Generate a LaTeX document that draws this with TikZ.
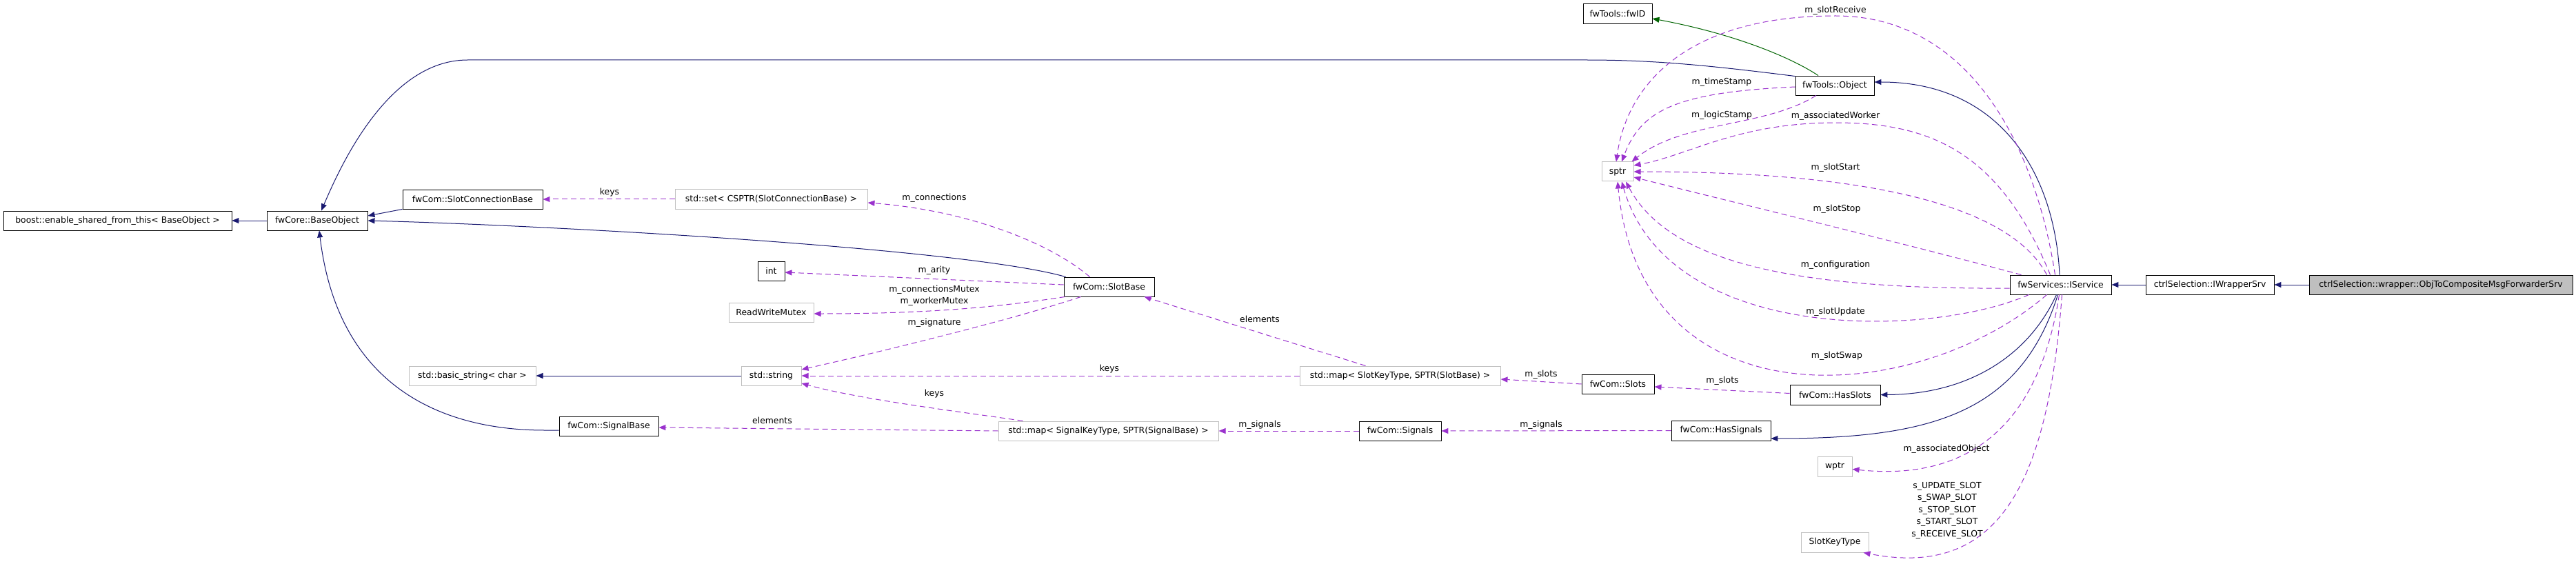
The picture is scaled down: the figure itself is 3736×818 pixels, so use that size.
\documentclass[tikz,border=0pt]{standalone}
\usepackage{fontspec}
\setmainfont{DejaVu Sans}
\usetikzlibrary{arrows.meta}
\definecolor{navy}{HTML}{191970}
\definecolor{dgreen}{HTML}{006400}
\definecolor{orchid}{HTML}{9A32CD}
\definecolor{lgray}{HTML}{BFBFBF}
\tikzset{
  cls/.style={draw=black, line width=0.9pt, fill=white, inner sep=0pt, minimum height=28pt, font=\fontsize{12.4}{17.5}\selectfont},
  ext/.style={cls, draw=lgray, line width=1pt},
  cur/.style={cls, fill=lgray},
  inh/.style={draw=navy, line width=1pt, -{Triangle[length=10pt,width=8pt]}},
  grn/.style={draw=dgreen, line width=1pt, -{Triangle[length=10pt,width=8pt]}},
  use/.style={draw=orchid, line width=1pt, dash pattern=on 8pt off 5pt, -{Triangle[length=10pt,width=8pt]}},
  lbl/.style={inner sep=0pt, align=center, font=\fontsize{12.4}{17.5}\selectfont}
}
\begin{document}
\begin{tikzpicture}[x=1pt,y=-1pt]
\useasboundingbox (0,0) rectangle (3736,818);
% nodes
\node[cls, minimum width=331pt] (boost) at (170.5,320) {boost::enable\_shared\_from\_this< BaseObject >};
\node[cls, minimum width=146pt] (base) at (460,320) {fwCore::BaseObject};
\node[cls, minimum width=203pt] (scb) at (685.5,289) {fwCom::SlotConnectionBase};
\node[ext, minimum width=184pt] (bstr) at (685,545) {std::basic\_string< char >};
\node[cls, minimum width=144pt] (sigbase) at (883,618) {fwCom::SignalBase};
\node[ext, minimum width=279pt] (set) at (1118.5,289) {std::set< CSPTR(SlotConnectionBase) >};
\node[cls, minimum width=39pt] (int) at (1118.5,393) {int};
\node[ext, minimum width=123pt] (rwm) at (1118.5,453) {ReadWriteMutex};
\node[ext, minimum width=87pt] (str) at (1118.5,545) {std::string};
\node[ext, minimum width=319pt] (mapsig) at (1607.5,625) {std::map< SignalKeyType, SPTR(SignalBase) >};
\node[cls, minimum width=131pt] (slotbase) at (1608.5,416) {fwCom::SlotBase};
\node[ext, minimum width=291pt] (mapslot) at (2030.5,545) {std::map< SlotKeyType, SPTR(SlotBase) >};
\node[cls, minimum width=119pt] (signals) at (2030.5,625) {fwCom::Signals};
\node[cls, minimum width=105pt] (slots) at (2346.5,557) {fwCom::Slots};
\node[ext, minimum width=46pt] (sptr) at (2346,249) {sptr};
\node[cls, minimum width=100pt, minimum height=29pt] (fwid) at (2346,19.5) {fwTools::fwID};
\node[cls, minimum width=114pt] (object) at (2661,124) {fwTools::Object};
\node[cls, minimum width=131pt, minimum height=29pt] (hasslots) at (2661.5,572.5) {fwCom::HasSlots};
\node[cls, minimum width=144pt, minimum height=29pt] (hassig) at (2496,624.5) {fwCom::HasSignals};
\node[ext, minimum width=50pt, minimum height=29pt] (wptr) at (2661,676.5) {wptr};
\node[ext, minimum width=98pt, minimum height=29pt] (skt) at (2661,786.5) {SlotKeyType};
\node[cls, minimum width=147pt] (iservice) at (2988.5,413) {fwServices::IService};
\node[cls, minimum width=186pt] (iwrapper) at (3205,413) {ctrlSelection::IWrapperSrv};
\node[cur, minimum width=382pt] (final) at (3540,413) {ctrlSelection::wrapper::ObjToCompositeMsgForwarderSrv};
% inheritance
\draw[inh] (base.west) -- (boost.east);
\draw[inh] (scb.south west) -- ([yshift=7pt]base.east);
\draw[inh] ([xshift=3pt]slotbase.north west) .. controls (1400,360) and (800,327) .. (base.east);
\draw[inh] ([yshift=-1pt]object.north west) .. controls (2480,95) and (2400,87) .. (2300,87) -- (678,87) .. controls (560,87) and (490,250) .. ([xshift=6pt]base.north);
\draw[inh] ([yshift=-6pt]sigbase.west) -- (790,624) .. controls (640,624) and (490,560) .. ([xshift=3pt]base.south);
\draw[inh] (str.west) -- (bstr.east);
\draw[inh] ([xshift=-1.5pt]iservice.north) .. controls (2980,250) and (2900,119) .. ([yshift=5pt]object.east);
\draw[inh] ([xshift=-6pt]iservice.south) .. controls (2940,520) and (2850,572) .. (hasslots.east);
\draw[inh] ([xshift=-4pt]iservice.south) .. controls (2930,600) and (2800,636) .. ([yshift=-11.5pt]hassig.east);
\draw[inh] (iwrapper.west) -- (iservice.east);
\draw[inh] (final.west) -- (iwrapper.east);
\draw[grn] ([xshift=-24pt]object.north) .. controls (2600,85) and (2520,50) .. ([yshift=-7.5pt]fwid.east);
% usage
\draw[use] (set.west) -- (scb.east);
\node[lbl] (l1) at (884,279) {keys};
\draw[use] ([xshift=-28pt]slotbase.north) .. controls (1520,350) and (1400,305) .. ([yshift=-5pt]set.east);
\node[lbl] (l2) at (1355,287) {m\_connections};
\draw[use] ([yshift=3pt]slotbase.west) -- ([yshift=-2pt]int.east);
\node[lbl] (l3) at (1355,392) {m\_arity};
\draw[use] ([xshift=2pt]slotbase.south west) .. controls (1450,445) and (1350,455) .. ([yshift=-2pt]rwm.east);
\node[lbl] (l4) at (1355,429) {m\_connectionsMutex\\m\_workerMutex};
\draw[use] ([xshift=25pt]slotbase.south west) .. controls (1480,460) and (1300,505) .. ([yshift=9pt]str.east);
\node[lbl] (l5) at (1355,468) {m\_signature};
\draw[use] (mapslot.west) -- (str.east);
\node[lbl] (l6) at (1609,535) {keys};
\draw[use] ([xshift=36pt]mapsig.north west) .. controls (1400,598) and (1250,580) .. ([yshift=-11pt]str.east);
\node[lbl] (l7) at (1355,571) {keys};
\draw[use] (mapsig.west) -- ([yshift=-2pt]sigbase.east);
\node[lbl] (l8) at (1120,610) {elements};
\draw[use] ([xshift=-50pt]mapslot.north) -- ([xshift=51pt]slotbase.south);
\node[lbl] (l9) at (1827,463) {elements};
\draw[use] (slots.west) -- ([yshift=-5pt]mapslot.east);
\node[lbl] (l10) at (2235,543) {m\_slots};
\draw[use] (signals.west) -- (mapsig.east);
\node[lbl] (l11) at (1827,616) {m\_signals};
\draw[use] (hassig.west) -- (signals.east);
\node[lbl] (l12) at (2235,616) {m\_signals};
\draw[use] ([yshift=2pt]hasslots.west) -- ([yshift=-4pt]slots.east);
\node[lbl] (l13) at (2498,552) {m\_slots};
\draw[use] ([yshift=-2pt]object.west) .. controls (2430,134) and (2380,160) .. ([xshift=6pt]sptr.north);
\node[lbl] (l14) at (2497,119) {m\_timeStamp};
\draw[use] ([xshift=-27pt]object.south) .. controls (2560,185) and (2440,175) .. ([xshift=-3pt]sptr.north east);
\node[lbl] (l15) at (2497,167) {m\_logicStamp};
\draw[use] ([xshift=-8pt]iservice.north) .. controls (2950,200) and (2850,23) .. (2662,23) .. controls (2450,23) and (2360,120) .. ([xshift=-2pt]sptr.north);
\node[lbl] (l16) at (2662,15) {m\_slotReceive};
\draw[use] ([xshift=-15pt]iservice.north) .. controls (2900,220) and (2800,178) .. (2662,178) .. controls (2520,178) and (2450,225) .. ([yshift=9pt]sptr.east);
\node[lbl] (l17) at (2662,168) {m\_associatedWorker};
\draw[use] ([xshift=-20pt]iservice.north) .. controls (2900,270) and (2600,249) .. (sptr.east);
\node[lbl] (l18) at (2662,243) {m\_slotStart};
\draw[use] ([xshift=-57pt]iservice.north) .. controls (2750,350) and (2500,290) .. ([yshift=-8pt]sptr.east);
\node[lbl] (l19) at (2664,303) {m\_slotStop};
\draw[use] ([yshift=-5pt]iservice.west) .. controls (2600,420) and (2420,380) .. ([xshift=12pt]sptr.south);
\node[lbl] (l20) at (2662,384) {m\_configuration};
\draw[use] ([xshift=-46pt]iservice.south) .. controls (2800,490) and (2420,500) .. ([xshift=6pt]sptr.south);
\node[lbl] (l21) at (2662,452) {m\_slotUpdate};
\draw[use] ([xshift=-20pt]iservice.south) .. controls (2780,590) and (2380,620) .. (sptr.south);
\node[lbl] (l22) at (2664,516) {m\_slotSwap};
\draw[use] ([xshift=-2pt]iservice.south) .. controls (2960,600) and (2870,700) .. ([yshift=-4pt]wptr.east);
\node[lbl] (l23) at (2823,651) {m\_associatedObject};
\draw[use] ([xshift=2pt]iservice.south) .. controls (2970,700) and (2900,840) .. ([xshift=-8pt]skt.south east);
\node[lbl] (l24) at (2824,740) {s\_UPDATE\_SLOT\\s\_SWAP\_SLOT\\s\_STOP\_SLOT\\s\_START\_SLOT\\s\_RECEIVE\_SLOT};
\end{tikzpicture}
\end{document}
